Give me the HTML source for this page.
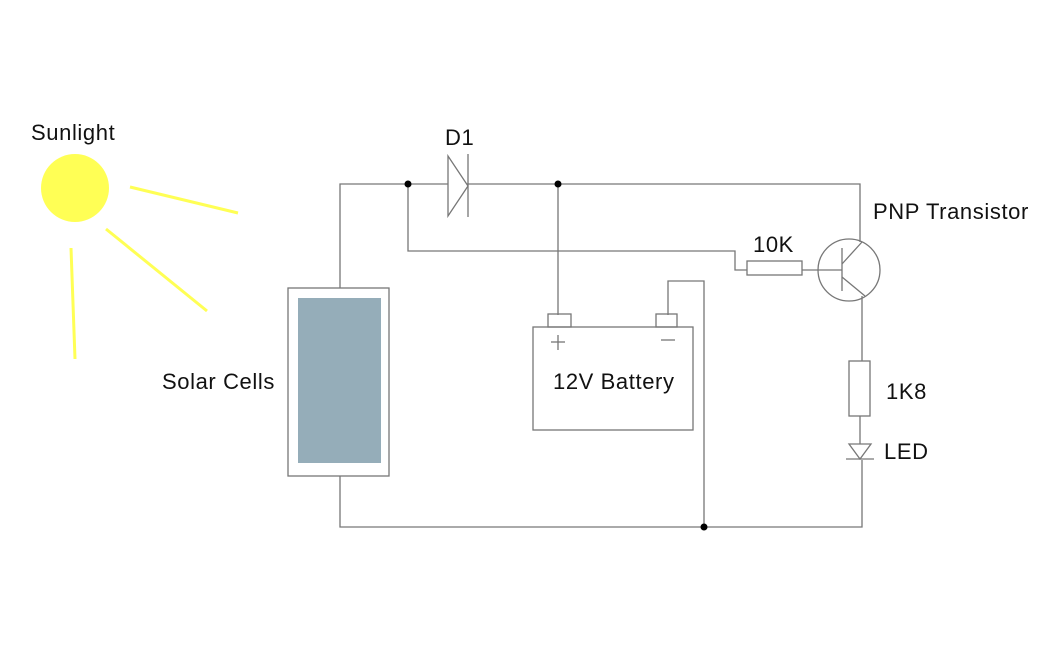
<!DOCTYPE html>
<html><head><meta charset="utf-8"><style>
body{margin:0;background:#fff}
svg{display:block}
text{font-family:"Liberation Sans",sans-serif;font-size:22px;letter-spacing:0.6px;fill:#111}
</style></head><body>
<svg width="1050" height="650" viewBox="0 0 1050 650">
<g stroke="#ffff55" stroke-width="3">
<line x1="130" y1="187" x2="238" y2="213"/>
<line x1="106" y1="229" x2="207" y2="311"/>
<line x1="71" y1="248" x2="75" y2="359"/>
</g>
<circle cx="75" cy="188" r="34" fill="#ffff55"/>
<g stroke="#777" stroke-width="1.3" fill="none">
<polyline points="340,288 340,184 860,184 860,242"/>
<polyline points="340,476 340,527 862,527 862,460"/>
<polyline points="408,184 408,251 735,251 735,270 747,270"/>
<line x1="558" y1="184" x2="558" y2="315"/>
<polyline points="668,315 668,281 704,281 704,527"/>
<rect x="747" y="261" width="55" height="14" fill="#fff"/>
<line x1="802" y1="270" x2="842" y2="270"/>
<circle cx="849" cy="270" r="31"/>
<line x1="842" y1="248" x2="842" y2="291"/>
<line x1="842" y1="264" x2="862" y2="242"/>
<line x1="842" y1="277" x2="865" y2="296"/>
<line x1="862" y1="296" x2="862" y2="361"/>
<rect x="849" y="361" width="21" height="55" fill="#fff"/>
<line x1="860" y1="416" x2="860" y2="444"/>
<polygon points="849,444 871,444 860,459"/>
<line x1="846" y1="459" x2="874" y2="459"/>
<polygon points="448,156 448,216 468,186" fill="#fff"/>
<line x1="468" y1="154" x2="468" y2="217"/>
<rect x="533" y="327" width="160" height="103" fill="#fff"/>
<rect x="548" y="314" width="23" height="13"/>
<rect x="656" y="314" width="21" height="13"/>
<line x1="551" y1="342" x2="565" y2="342"/><line x1="558" y1="335" x2="558" y2="350"/>
<line x1="661" y1="340" x2="675" y2="340"/>
<rect x="288" y="288" width="101" height="188" fill="#fff"/>
</g>
<rect x="298" y="298" width="83" height="165" fill="#95adb9"/>
<g fill="#000">
<circle cx="408" cy="184" r="3.5"/><circle cx="558" cy="184" r="3.5"/><circle cx="704" cy="527" r="3.5"/>
</g>
<text x="31" y="140">Sunlight</text>
<text x="445" y="145">D1</text>
<text x="873" y="219">PNP Transistor</text>
<text x="753" y="252">10K</text>
<text x="162" y="389">Solar Cells</text>
<text x="553" y="389">12V Battery</text>
<text x="886" y="399">1K8</text>
<text x="884" y="459">LED</text>
</svg>
</body></html>
